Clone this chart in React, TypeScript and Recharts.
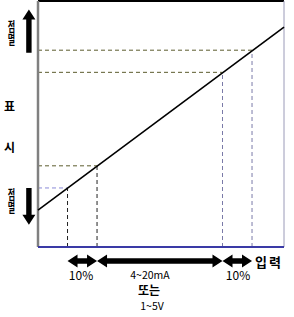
import React from "react";
import { LineChart, Line, XAxis, YAxis, ReferenceLine } from "recharts";

// 입력(%) vs 표시 — schematic
const lineX = [0, 100];
const lineY = [15, 89.4];

// guide points on the line (input → display)
const guideX = [12, 24, 75, 87];
const guideY = [24, 33, 71, 80];

// span arrows under the axis
const spanStart = [12, 24, 75];
const spanEnd = [24, 75, 87];
const spanY = -5.7;

// 점멸 arrows at the left
const blinkX = -3.7;
const blinkFrom = [79, 24];
const blinkTo = [96.5, 9];

const W = 294;
const H = 317;
const FONT = "'Noto Sans CJK KR', 'Noto Sans', sans-serif";

const data = lineX.map((x, i) => ({ x, y: lineY[i] }));

const hColors = ["#8a8ad8", "#5c5c2e", "#5c5c2e", "#5c5c2e"];
const vColors = ["#222", "#222", "#7a7aa8", "#7a7aa8"];

function arrowShape(both: boolean) {
  return (p: any) => {
    const { x1, y1, x2, y2 } = p;
    const dx = x2 - x1;
    const dy = y2 - y1;
    const len = Math.sqrt(dx * dx + dy * dy) || 1;
    const ux = dx / len;
    const uy = dy / len;
    const nx = -uy;
    const ny = ux;
    const hl = 10; // head length
    const hw = 6.5; // head half width
    const sw = 2.7; // shaft half width
    const pts: [number, number][] = [];
    const sx = both ? x1 + ux * hl : x1;
    const sy = both ? y1 + uy * hl : y1;
    const ex = x2 - ux * hl;
    const ey = y2 - uy * hl;
    pts.push([sx + nx * sw, sy + ny * sw]);
    pts.push([ex + nx * sw, ey + ny * sw]);
    pts.push([ex + nx * hw, ey + ny * hw]);
    pts.push([x2, y2]);
    pts.push([ex - nx * hw, ey - ny * hw]);
    pts.push([ex - nx * sw, ey - ny * sw]);
    pts.push([sx - nx * sw, sy - ny * sw]);
    if (both) {
      pts.push([sx - nx * hw, sy - ny * hw]);
      pts.push([x1, y1]);
      pts.push([sx + nx * hw, sy + ny * hw]);
    }
    return <polygon points={pts.map((q) => q.join(",")).join(" ")} fill="#000" />;
  };
}

function Blink({ y }: { y: number }) {
  // vertical, narrowed label in a single text element
  return (
    <text
      transform={`translate(11.5,${y}) scale(0.62,1)`}
      x={0}
      y={0}
      fontSize={13}
      fontWeight="bold"
      style={{ writingMode: "vertical-rl" }}
    >
      점멸
    </text>
  );
}

export default function App() {
  return (
    <div style={{ position: "absolute", left: 0, top: 0, width: W, height: H, background: "#fff" }}>
      <LineChart width={W} height={H} data={data} margin={{ top: 1, right: 10, bottom: 70, left: 38 }}>
        <XAxis dataKey="x" type="number" domain={[0, 100]} hide />
        <YAxis type="number" domain={[0, 100]} hide />

        {/* frame */}
        <ReferenceLine segment={[{ x: 0, y: 100 }, { x: 100, y: 100 }]} stroke="#000" strokeWidth={2} ifOverflow="visible" />
        <ReferenceLine segment={[{ x: 100, y: 0 }, { x: 100, y: 100 }]} stroke="#9a9ab8" strokeWidth={1} ifOverflow="visible" />

        {/* dashed guides */}
        {guideX.map((gx, i) => (
          <ReferenceLine
            key={"h" + i}
            segment={[{ x: 0, y: guideY[i] }, { x: gx, y: guideY[i] }]}
            stroke={hColors[i]}
            strokeDasharray="4 3"
            strokeWidth={1}
            ifOverflow="visible"
          />
        ))}
        {guideX.map((gx, i) => (
          <ReferenceLine
            key={"v" + i}
            segment={[{ x: gx, y: 0 }, { x: gx, y: guideY[i] }]}
            stroke={vColors[i]}
            strokeDasharray="4 3"
            strokeWidth={1}
            ifOverflow="visible"
          />
        ))}

        {/* axes */}
        <ReferenceLine segment={[{ x: 0, y: 0 }, { x: 0, y: 100 }]} stroke="#808080" strokeWidth={2.5} ifOverflow="visible" />
        <ReferenceLine segment={[{ x: 0, y: 0 }, { x: 100, y: 0 }]} stroke="#3a3aa6" strokeWidth={2} ifOverflow="visible" />

        <Line dataKey="y" stroke="#000" strokeWidth={1.6} dot={false} isAnimationActive={false} />

        {/* arrows */}
        {spanStart.map((s, i) => (
          <ReferenceLine
            key={"a" + i}
            segment={[{ x: s, y: spanY }, { x: spanEnd[i], y: spanY }]}
            shape={arrowShape(true)}
            ifOverflow="visible"
          />
        ))}
        {blinkFrom.map((f, i) => (
          <ReferenceLine
            key={"b" + i}
            segment={[{ x: blinkX, y: f }, { x: blinkX, y: blinkTo[i] }]}
            shape={arrowShape(false)}
            ifOverflow="visible"
          />
        ))}

        {/* labels */}
        <g fontFamily={FONT} fill="#000">
          <Blink y={20} />
          <Blink y={188} />
          <text x={9.5} y={111} textAnchor="middle" fontSize={12} fontWeight="bold">표</text>
          <text x={9.5} y={152} textAnchor="middle" fontSize={12} fontWeight="bold">시</text>
          <text x={81} y={280} textAnchor="middle" fontSize={12}>10%</text>
          <text x={238} y={280} textAnchor="middle" fontSize={12}>10%</text>
          <text x={150} y={279} textAnchor="middle" fontSize={10.5}>4~20mA</text>
          <text x={149} y={295} textAnchor="middle" fontSize={12} fontWeight="bold">또는</text>
          <text x={152} y={310} textAnchor="middle" fontSize={10.5}>1~5V</text>
          <text x={269} y={267} textAnchor="middle" fontSize={13} fontWeight="bold" letterSpacing={2}>입력</text>
        </g>
      </LineChart>
    </div>
  );
}
